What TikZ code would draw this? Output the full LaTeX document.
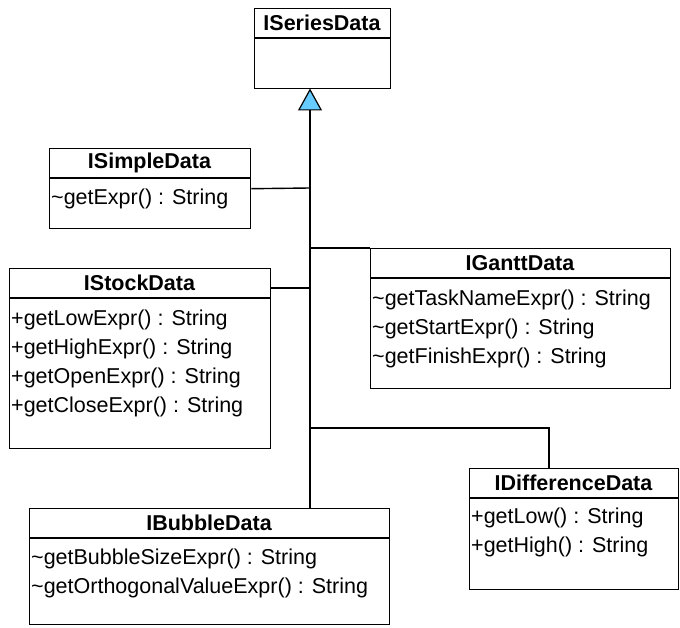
\documentclass[tikz,border=0pt]{standalone}
\usepackage{fontspec}
\setmainfont{Liberation Sans}
\usetikzlibrary{arrows.meta,calc}
\definecolor{arrowblue}{RGB}{102,204,255}
\begin{document}
\begin{tikzpicture}[x=1pt,y=-1pt,
  box/.style={draw,line width=1.4pt,inner sep=0pt,anchor=north west},
  sepline/.style={line width=1.4pt},
  title/.style={inner sep=0pt,font=\fontsize{21.5}{25}\selectfont\bfseries},
  meth/.style={inner sep=0pt,anchor=west,font=\fontsize{21.5}{25}\selectfont},
  conn/.style={line width=1.4pt}]
\useasboundingbox (0,0) rectangle (680,628);
% ISeriesData
\node[box,minimum width=136pt,minimum height=80pt] (series) at (254,8) {};
\draw[sepline] (254,38) -- (390,38);
\node[title] (seriesT) at (322,23) {ISeriesData};
% ISimpleData
\node[box,minimum width=201pt,minimum height=80pt] (simple) at (49,148) {};
\draw[sepline] (49,178) -- (250,178);
\node[title] (simpleT) at (149.5,163) {ISimpleData};
\node[meth] (simple1) at (51,199) {\textasciitilde getExpr() : String};
% IStockData
\node[box,minimum width=261pt,minimum height=180pt] (stock) at (9,268) {};
\draw[sepline] (9,298) -- (270,298);
\node[title] (stockT) at (139.5,283) {IStockData};
\node[meth] (stock1) at (11,320) {+getLowExpr() : String};
\node[meth] (stock2) at (11,349) {+getHighExpr() : String};
\node[meth] (stock3) at (11,378) {+getOpenExpr() : String};
\node[meth] (stock4) at (11,407) {+getCloseExpr() : String};
% IGanttData
\node[box,minimum width=300pt,minimum height=140pt] (gantt) at (370,248) {};
\draw[sepline] (370,278) -- (670,278);
\node[title] (ganttT) at (520,263) {IGanttData};
\node[meth] (gantt1) at (372,300) {\textasciitilde getTaskNameExpr() : String};
\node[meth] (gantt2) at (372,329) {\textasciitilde getStartExpr() : String};
\node[meth] (gantt3) at (372,358) {\textasciitilde getFinishExpr() : String};
% IDifferenceData
\node[box,minimum width=209pt,minimum height=121pt] (diff) at (469,468) {};
\draw[sepline] (469,498) -- (678,498);
\node[title] (diffT) at (573.5,483) {IDifferenceData};
\node[meth] (diff1) at (471,518) {+getLow() : String};
\node[meth] (diff2) at (471,547) {+getHigh() : String};
% IBubbleData
\node[box,minimum width=360pt,minimum height=116pt] (bubble) at (29,508) {};
\draw[sepline] (29,538) -- (389,538);
\node[title] (bubbleT) at (209,523) {IBubbleData};
\node[meth] (bubble1) at (31,559) {\textasciitilde getBubbleSizeExpr() : String};
\node[meth] (bubble2) at (31,588) {\textasciitilde getOrthogonalValueExpr() : String};
% connectors
\coordinate (tip) at (310,88.5);
\coordinate (bubtop) at (310,508);
\coordinate (jSimple) at (310,188);
\coordinate (jStock) at (310,288);
\coordinate (stockE) at (270,288);
\coordinate (jGantt) at (310,248);
\coordinate (jDiff) at (310,428);
\coordinate (diffBend) at (549,428);
\coordinate (diffTop) at (549,468);
\draw[conn,-{Triangle[width=24pt,length=22pt,fill=arrowblue,line width=1.2pt]}] (bubtop) -- (tip);
\draw[conn] (simple.east) -- (jSimple);
\draw[conn] (stockE) -- (jStock);
\draw[conn] (jGantt) -- (gantt.north west);
\draw[conn] (jDiff) -- (diffBend) -- (diffTop);
\end{tikzpicture}
\end{document}
